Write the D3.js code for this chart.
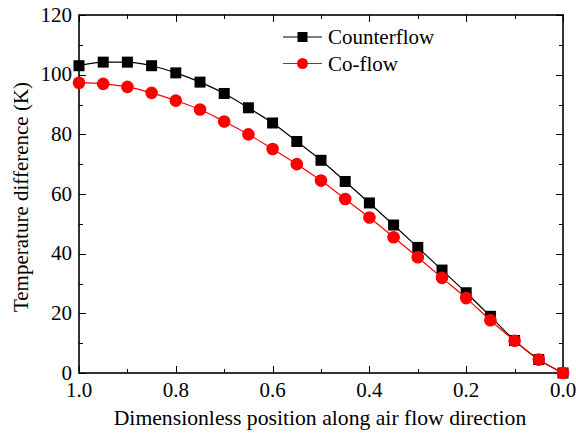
<!DOCTYPE html>
<html>
<head>
<meta charset="utf-8">
<script src="https://cdn.jsdelivr.net/npm/d3@7"></script>
<style>
  body { margin: 0; background: #fff; }
</style>
</head>
<body>
<div id="chart"></div>
<script>
// data
var positions = [1.0, 0.95, 0.9, 0.85, 0.8, 0.75, 0.7, 0.65, 0.6, 0.55, 0.5,
                 0.45, 0.4, 0.35, 0.3, 0.25, 0.2, 0.15, 0.1, 0.05, 0.0];
var counterflow = [103, 104.2, 104.2, 103, 100.6, 97.5, 93.7, 88.9, 83.8, 77.6, 71.3,
                   64.2, 57, 49.6, 42.1, 34.5, 26.9, 19, 10.9, 4.5, 0];
var coflow = [97.3, 96.9, 95.9, 93.9, 91.3, 88.3, 84.3, 80, 75.1, 70, 64.5,
              58.3, 52.1, 45.5, 38.8, 31.9, 25.1, 17.7, 10.8, 4.5, 0];
var xTicks = [1.0, 0.8, 0.6, 0.4, 0.2, 0.0];
var yTicks = [0, 20, 40, 60, 80, 100, 120];

var width = 576,
  height = 433;
var margin = {left: 79, right: 13, top: 15, bottom: 60};
var serif = '"Liberation Serif", "Times New Roman", Times, serif';

var svg = d3.select('#chart').append('svg')
    .attr('width', width)
    .attr('height', height)
    .attr('font-family', serif);

var x = d3.scaleLinear()
    .domain([1, 0])
    .range([margin.left, width - margin.right]);

var y = d3.scaleLinear()
    .domain([0, 120])
    .range([height - margin.bottom, margin.top]);

var x0 = x.range()[0], x1 = x.range()[1];
var y0 = y.range()[0], y1 = y.range()[1];

// major + minor ticks, inside, on all four sides
var xMinor = d3.range(0, 11).map(function(i) { return i / 10; });
var yMinor = d3.range(0, 13).map(function(i) { return i * 10; });

var ticks = svg.append('g').attr('stroke', '#000').attr('stroke-width', 1);
xMinor.forEach(function(v) {
  var len = (Math.round(v * 10) % 2 === 0) ? 7 : 4;
  var px = Math.round(x(v)) + 0.5;
  ticks.append('line').attr('x1', px).attr('x2', px).attr('y1', y0).attr('y2', y0 - len);
  ticks.append('line').attr('x1', px).attr('x2', px).attr('y1', y1).attr('y2', y1 + len);
});
yMinor.forEach(function(v) {
  var len = (v % 20 === 0) ? 7 : 4;
  var py = Math.round(y(v)) + 0.5;
  ticks.append('line').attr('x1', x0).attr('x2', x0 + len).attr('y1', py).attr('y2', py);
  ticks.append('line').attr('x1', x1).attr('x2', x1 - len).attr('y1', py).attr('y2', py);
});

// frame
svg.append('rect')
    .attr('x', x0).attr('y', y1)
    .attr('width', x1 - x0).attr('height', y0 - y1)
    .attr('fill', 'none')
    .attr('stroke', '#000')
    .attr('stroke-width', 1.6);

// tick labels
svg.append('g').selectAll('text')
  .data(xTicks)
  .enter().append('text')
  .attr('x', function(d) { return x(d); })
  .attr('y', 397)
  .attr('text-anchor', 'middle')
  .style('font-size', '21px')
  .text(function(d) { return d3.format('.1f')(d); });

svg.append('g').selectAll('text')
  .data(yTicks)
  .enter().append('text')
  .attr('x', x0 - 7)
  .attr('y', function(d) { return y(d) + 6.5; })
  .attr('text-anchor', 'end')
  .style('font-size', '21px')
  .text(function(d) { return d; });

// axis titles
svg.append('text')
    .attr('x', 320)
    .attr('y', 425)
    .attr('text-anchor', 'middle')
    .style('font-size', '21.7px')
    .text('Dimensionless position along air flow direction');

svg.append('text')
    .attr('transform', 'translate(28,' + ((y0 + y1) / 2 + 3) + ') rotate(-90)')
    .attr('text-anchor', 'middle')
    .style('font-size', '21px')
    .text('Temperature difference (K)');

// series
var line = d3.line()
    .x(function(d) { return x(d[0]); })
    .y(function(d) { return y(d[1]); })
    .curve(d3.curveMonotoneX);

var counterData = positions.map(function(p, i) { return [p, counterflow[i]]; });
var coData = positions.map(function(p, i) { return [p, coflow[i]]; });

svg.append('path')
    .datum(counterData)
    .attr('d', line)
    .attr('fill', 'none')
    .attr('stroke', '#000')
    .attr('stroke-width', 1.2);

svg.append('g').selectAll('rect')
  .data(counterData)
  .enter().append('rect')
  .attr('x', function(d) { return x(d[0]) - 5.5; })
  .attr('y', function(d) { return y(d[1]) - 5.5; })
  .attr('width', 11)
  .attr('height', 11)
  .attr('fill', '#000');

svg.append('path')
    .datum(coData)
    .attr('d', line)
    .attr('fill', 'none')
    .attr('stroke', '#ff0000')
    .attr('stroke-width', 1.2);

svg.append('g').selectAll('circle')
  .data(coData)
  .enter().append('circle')
  .attr('cx', function(d) { return x(d[0]); })
  .attr('cy', function(d) { return y(d[1]); })
  .attr('r', 6.3)
  .attr('fill', '#ff0000');

// legend
var legend = svg.append('g').attr('transform', 'translate(283,0)');
legend.append('line').attr('x1', 0).attr('x2', 39).attr('y1', 37).attr('y2', 37)
    .attr('stroke', '#000').attr('stroke-width', 1.2);
legend.append('rect').attr('x', 19.5 - 5).attr('y', 37 - 5).attr('width', 10).attr('height', 10)
    .attr('fill', '#000');
legend.append('text').attr('x', 45).attr('y', 44).style('font-size', '21px').text('Counterflow');

legend.append('line').attr('x1', 0).attr('x2', 39).attr('y1', 63.5).attr('y2', 63.5)
    .attr('stroke', '#ff0000').attr('stroke-width', 1.2);
legend.append('circle').attr('cx', 19.5).attr('cy', 63.5).attr('r', 5.5)
    .attr('fill', '#ff0000');
legend.append('text').attr('x', 45).attr('y', 71).style('font-size', '21px').text('Co-flow');
</script>
</body>
</html>
